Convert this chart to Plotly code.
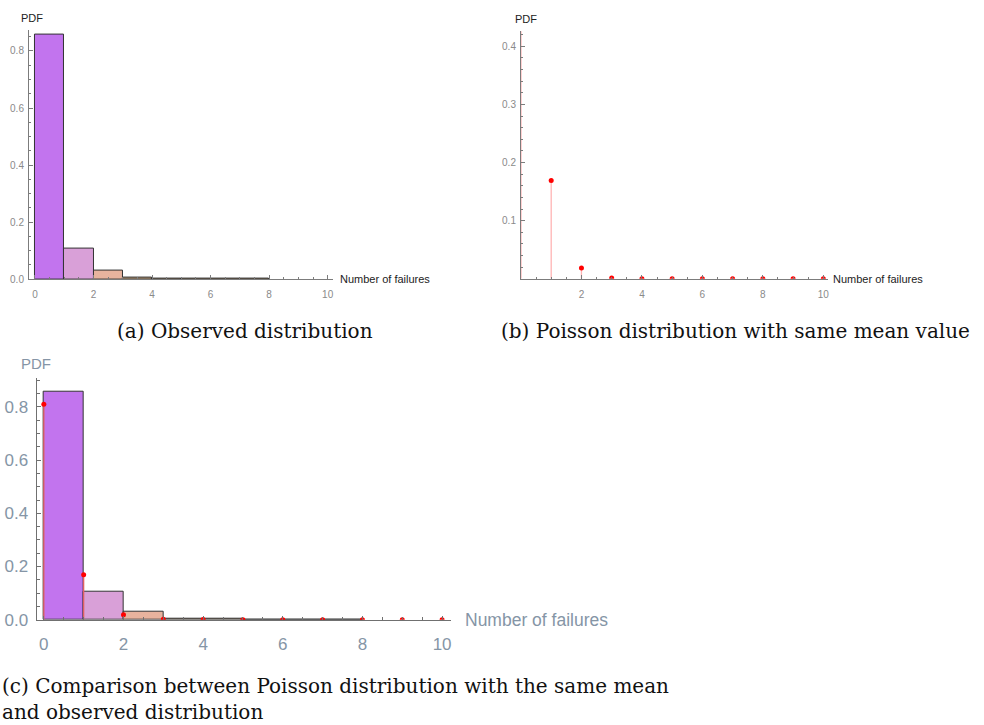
import plotly.graph_objects as go

# Observed failure counts per bin (bin k covers [k, k+1))
obs_bins = [0, 1, 2, 3, 4, 5, 6, 7]
obs_pdf = [0.857, 0.106, 0.029, 0.005, 0.002, 0.001, 0.001, 0.001]
obs_colors = ["#c274ee", "#d9a0d8", "#e8b39e", "#b89a78", "#b89a78", "#b89a78", "#b89a78", "#b89a78"]

# Poisson pmf with the same mean
poi_k = [0, 1, 2, 3, 4, 5, 6, 7, 8, 9, 10]
poi_pdf = [0.810, 0.169, 0.0185, 0.0013, 0.0001, 0.0, 0.0, 0.0, 0.0, 0.0, 0.0]

x_title = "Number of failures"
y_title = "PDF"
captions = [
    "(a) Observed distribution",
    "(b) Poisson distribution with same mean value",
    "(c) Comparison between Poisson distribution with the same mean<br>and observed distribution",
]

W, H = 984, 725
small_font = "Liberation Sans Narrow, Arial Narrow, Liberation Sans, sans-serif"
big_font = "Liberation Sans, Arial, sans-serif"
serif = "DejaVu Serif, Liberation Serif, serif"


def px_x(p):
    return p / W


def px_y(p):
    return 1 - p / H


fig = go.Figure()


def histogram(xa, ya):
    fig.add_trace(go.Bar(
        x=[b + 0.5 for b in obs_bins], y=obs_pdf, width=1,
        marker=dict(color=obs_colors, line=dict(color="#333333", width=1)),
        xaxis=xa, yaxis=ya, showlegend=False, hoverinfo="skip",
    ))


def stems(xa, ya, color):
    sx, sy = [], []
    for k, p in zip(poi_k, poi_pdf):
        sx += [k, k, None]
        sy += [0, p, None]
    fig.add_trace(go.Scatter(
        x=sx, y=sy, mode="lines", line=dict(color=color, width=1.3),
        xaxis=xa, yaxis=ya, showlegend=False, hoverinfo="skip",
    ))
    fig.add_trace(go.Scatter(
        x=poi_k, y=poi_pdf, mode="markers",
        marker=dict(color="#ff0000", size=5),
        xaxis=xa, yaxis=ya, showlegend=False, cliponaxis=True,
    ))


# (a) histogram
histogram("x", "y")
# (b) Poisson stems
stems("x2", "y2", "#ffb4b4")
# (c) overlay
histogram("x3", "y3")
stems("x3", "y3", "#e06060")


def axis_common(color, tickcolor, fsize, family, standoff):
    return dict(
        showline=True, linecolor=color, linewidth=1, showgrid=False, zeroline=False,
        ticks="inside", ticklen=4, tickcolor=color, tickwidth=1,
        tickfont=dict(family=family, size=fsize, color=tickcolor),
        ticklabelstandoff=standoff,
        layer="above traces", fixedrange=True,
    )


ab_axis = "#7c7c7c"
ab_tick = "#8a8a8a"
c_axis = "#707070"
c_tick = "#8595a6"

layout = dict(
    width=W, height=H, margin=dict(l=0, r=0, t=0, b=0),
    paper_bgcolor="white", plot_bgcolor="white", bargap=0,
    xaxis=dict(**axis_common(ab_axis, ab_tick, 10, small_font, 6),
               domain=[px_x(29), px_x(333)], range=[-0.205, 10.17], anchor="y",
               tickvals=[0, 2, 4, 6, 8, 10],
               minor=dict(dtick=0.5, tick0=0, ticks="inside", ticklen=2, tickcolor=ab_axis)),
    yaxis=dict(**axis_common(ab_axis, ab_tick, 10, small_font, 2),
               domain=[px_y(283), px_y(30)], range=[0, 0.875], anchor="x",
               tickvals=[0, 0.2, 0.4, 0.6, 0.8], tickformat=".1f",
               minor=dict(dtick=0.05, tick0=0, ticks="inside", ticklen=2, tickcolor=ab_axis)),
    xaxis2=dict(**axis_common(ab_axis, ab_tick, 10, small_font, 6),
                domain=[px_x(521.5), px_x(829)], range=[0, 10.16], anchor="y2",
                tickvals=[2, 4, 6, 8, 10],
                minor=dict(dtick=0.5, tick0=0, ticks="inside", ticklen=2, tickcolor=ab_axis)),
    yaxis2=dict(**axis_common(ab_axis, ab_tick, 10, small_font, 2),
                domain=[px_y(282.7), px_y(31.7)], range=[0, 0.426], anchor="x2",
                tickvals=[0.1, 0.2, 0.3, 0.4], tickformat=".1f",
                minor=dict(dtick=0.02, tick0=0, ticks="inside", ticklen=2, tickcolor=ab_axis)),
    xaxis3=dict(**axis_common(c_axis, c_tick, 17, big_font, 9),
                domain=[px_x(36.7), px_x(451.7)], range=[-0.18, 10.23], anchor="y3",
                tickvals=[0, 2, 4, 6, 8, 10],
                minor=dict(dtick=0.5, tick0=0, ticks="inside", ticklen=3, tickcolor=c_axis)),
    yaxis3=dict(**axis_common(c_axis, c_tick, 17, big_font, 4),
                domain=[px_y(628.3), px_y(383)], range=[0, 0.91], anchor="x3",
                tickvals=[0, 0.2, 0.4, 0.6, 0.8], tickformat=".1f",
                minor=dict(dtick=0.05, tick0=0, ticks="inside", ticklen=3, tickcolor=c_axis)),
)

annotations = []
for xa, ya, fam, tsize, psize, col, pdf_dx, t_dx in [
    ("x", "y", small_font, 11, 11, "#222222", -10, 5),
    ("x2", "y2", small_font, 11, 11, "#222222", -8, 3),
    ("x3", "y3", big_font, 17.5, 15, c_tick, -18, 12),
]:
    annotations.append(dict(
        text=x_title, xref=f"{xa} domain", yref=ya, x=1, y=0,
        xanchor="left", yanchor="middle", xshift=t_dx, showarrow=False,
        font=dict(family=fam, size=tsize, color=col),
    ))
    annotations.append(dict(
        text=y_title, xref=f"{xa} domain", yref=f"{ya} domain", x=0, y=1,
        xanchor="left", yanchor="bottom", xshift=pdf_dx, yshift=4, showarrow=False,
        font=dict(family=fam, size=psize, color=col),
    ))

cap_font = dict(family=serif, size=20, color="#111111")
annotations.append(dict(text=captions[0], xref="paper", yref="paper",
                        x=px_x(245), y=px_y(336), xanchor="center", yanchor="middle",
                        showarrow=False, font=cap_font))
annotations.append(dict(text=captions[1], xref="paper", yref="paper",
                        x=px_x(736), y=px_y(336), xanchor="center", yanchor="middle",
                        showarrow=False, font=cap_font))
annotations.append(dict(text=captions[2], xref="paper", yref="paper",
                        x=0, y=px_y(709), xanchor="left", yanchor="middle", align="left",
                        showarrow=False, font=cap_font))

layout["annotations"] = annotations
fig.update_layout(**layout)

fig.write_html("out.html")
